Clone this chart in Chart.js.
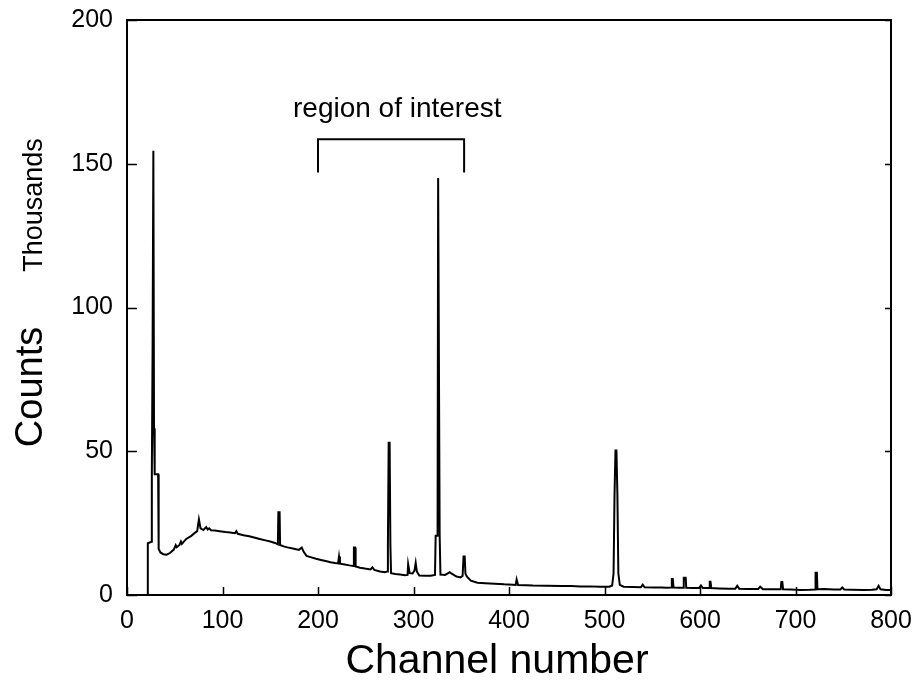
<!DOCTYPE html>
<html lang="en">
<head>
    <meta charset="UTF-8">
    <title>Channel spectrum</title>
    <script src="https://cdn.jsdelivr.net/npm/chart.js"></script>
    <style>
        html, body { margin: 0; padding: 0; background: #fff; }
        #wrap { width: 918px; height: 690px; }
    </style>
</head>
<body>
    <div id="wrap"><canvas id="spectrum" width="918" height="690"></canvas></div>

    <script>
        // spectrum: channel number and counts (thousands)
        const channels = [0, 21.5, 21.8, 25.6, 26, 26.8, 27.6, 28.3, 29, 32.6, 32.9, 33.4, 35, 38, 41.5, 45, 49, 51, 52, 55,
            56.5, 57.5, 62, 67, 71, 73.5, 75.3, 77, 80, 83, 84.5, 86, 88, 92, 97, 103, 108, 113, 114.5, 116,
            122, 128, 133, 139, 145, 150, 155, 158, 158.5, 159.8, 160.3, 164, 170, 176, 180, 183, 185, 188, 193, 198,
            203, 208, 213, 218, 221, 222, 223, 228, 233, 237, 237.6, 238.8, 239.4, 244, 249, 255, 257, 259, 265, 270,
            272.6, 273.2, 274, 275, 275.8, 276.5, 281, 286, 291, 293.8, 294.4, 295.2, 296, 299, 301, 302.3, 303.5, 306, 312, 318,
            322.5, 323.2, 325.2, 325.8, 326.6, 327.4, 328.2, 333, 338, 340, 345, 349, 351.4, 352.4, 353.6, 354.4, 356, 360, 367, 375,
            385, 395, 404, 407, 408, 409.5, 418, 425, 440, 455, 465, 475, 485, 495, 505, 508, 509.5, 510.5, 511.5, 512.5,
            513.5, 514.5, 516, 520, 530, 538, 540, 542, 552, 560, 565, 569.8, 570.5, 571.5, 572.3, 578, 582.5, 583, 585, 585.6,
            592, 599, 601, 603, 609.5, 610.2, 611, 611.8, 620, 630, 637, 639, 641, 650, 661, 663, 666, 675, 684.5, 685.2,
            686.2, 687, 695, 705, 715, 720.5, 721, 722.4, 723, 730, 740, 747, 749, 751, 760, 771, 780, 785, 787, 789,
            795, 800];
        const counts = [0, 0, 18, 18.5, 42, 86, 154.5, 58, 42, 42, 29, 16, 14.8, 14.2, 14.0, 14.6, 15.8, 17.3, 16.6, 17.4,
            18.6, 17.8, 19.5, 20.5, 21.6, 22.2, 26.3, 23.2, 22.6, 23.6, 22.8, 23.2, 22.5, 22.4, 22.2, 21.9, 21.7, 21.5, 22.2, 21.3,
            20.8, 20.4, 20, 19.5, 19, 18.6, 18.1, 17.6, 28.8, 28.8, 17.4, 16.9, 16.4, 16, 15.7, 16.5, 15.0, 13.6, 13.1, 12.6,
            12.2, 11.8, 11.4, 11.1, 11, 13.4, 10.9, 10.6, 10.3, 10.1, 16.5, 16.5, 9.9, 9.5, 9.2, 8.9, 9.6, 8.7, 8.2, 7.9,
            8.2, 17.4, 53, 53, 17.4, 7.6, 7.3, 7.1, 6.9, 7, 10.7, 10.7, 7.6, 7.5, 8.5, 11.2, 8.2, 6.8, 6.7, 6.7,
            7, 20.6, 20.6, 145, 145, 20.6, 7.1, 7, 7.9, 7.4, 6.4, 6.1, 6.6, 13.4, 13.4, 7.4, 6.4, 5.0, 4.3, 4.1,
            3.9, 3.7, 3.6, 3.5, 5.4, 3.5, 3.4, 3.3, 3.2, 3.1, 3.1, 3.0, 3.0, 2.9, 2.9, 3.3, 7.5, 35, 50.3, 50.3,
            35, 7.5, 3.5, 2.9, 2.8, 2.7, 3.6, 2.7, 2.6, 2.6, 2.5, 2.6, 5.6, 5.6, 2.6, 2.5, 2.5, 6.0, 6.0, 2.5,
            2.4, 2.4, 3.3, 2.4, 2.4, 4.6, 4.6, 2.4, 2.3, 2.2, 2.2, 3.2, 2.2, 2.1, 2.1, 2.9, 2.0, 2.0, 2.0, 4.5,
            4.5, 2.0, 1.9, 1.7, 1.8, 1.9, 7.7, 7.7, 2.0, 2.1, 1.9, 1.9, 2.6, 1.9, 1.8, 1.7, 1.8, 2.0, 3.2, 2.0,
            1.7, 1.7];

        // bracket over the region of interest (channel, thousands)
        const bracketX = [200, 200, 353, 353];
        const bracketY = [147, 158.5, 158.5, 147];
        const regionLabel = 'region of interest';

        const xTicks = [0, 100, 200, 300, 400, 500, 600, 700, 800];
        const yTicks = [0, 50, 100, 150, 200];

        const FONT = '"Liberation Sans", Arial, Helvetica, sans-serif';

        const spectrumPoints = channels.map((c, i) => ({ x: c, y: counts[i] }));
        const bracketPoints = bracketX.map((c, i) => ({ x: c, y: bracketY[i] }));

        // frame, inward ticks and the free text
        const framePlugin = {
            id: 'frame',
            afterDraw(chart) {
                const ctx = chart.ctx;
                const a = chart.chartArea;
                const xs = chart.scales.x;
                const ys = chart.scales.y;
                ctx.save();
                ctx.strokeStyle = '#000';
                ctx.lineWidth = 2;
                ctx.strokeRect(a.left, a.top, a.right - a.left, a.bottom - a.top);

                ctx.beginPath();
                xTicks.forEach(v => {
                    const px = Math.round(xs.getPixelForValue(v)) + 0.5;
                    ctx.moveTo(px, a.bottom);
                    ctx.lineTo(px, a.bottom - 8);
                });
                yTicks.forEach(v => {
                    const py = Math.round(ys.getPixelForValue(v)) + 0.5;
                    ctx.moveTo(a.left, py);
                    ctx.lineTo(a.left + 10, py);
                    ctx.moveTo(a.right, py);
                    ctx.lineTo(a.right - 6, py);
                });
                ctx.lineWidth = 1.5;
                ctx.stroke();

                ctx.fillStyle = '#000';

                // region of interest label above the bracket
                ctx.font = '28px ' + FONT;
                ctx.textAlign = 'center';
                ctx.textBaseline = 'alphabetic';
                ctx.fillText(regionLabel, xs.getPixelForValue(283), 117);

                // x axis title
                ctx.font = '41px ' + FONT;
                ctx.fillText('Channel number', 497, 673);

                // y axis titles, rotated
                ctx.save();
                ctx.translate(42, 387);
                ctx.rotate(-Math.PI / 2);
                ctx.font = '38px ' + FONT;
                ctx.fillText('Counts', 0, 0);
                ctx.restore();

                ctx.save();
                ctx.translate(42, 205);
                ctx.rotate(-Math.PI / 2);
                ctx.font = '27px ' + FONT;
                ctx.fillText('Thousands', 0, 0);
                ctx.restore();

                ctx.restore();
            }
        };

        new Chart(document.getElementById('spectrum'), {
            type: 'line',
            data: {
                datasets: [{
                    label: 'Counts',
                    data: spectrumPoints,
                    borderColor: '#000',
                    borderWidth: 2,
                    pointRadius: 0,
                    tension: 0,
                    fill: false
                }, {
                    label: 'Region of interest',
                    data: bracketPoints,
                    borderColor: '#000',
                    borderWidth: 2,
                    pointRadius: 0,
                    tension: 0,
                    fill: false
                }]
            },
            options: {
                responsive: false,
                animation: false,
                layout: { padding: { left: 0, right: 27, top: 20, bottom: 0 } },
                plugins: {
                    legend: { display: false },
                    tooltip: { enabled: false }
                },
                scales: {
                    x: {
                        type: 'linear',
                        min: 0,
                        max: 800,
                        afterFit(scale) {
                            scale.height = 95;
                            scale.paddingLeft = 0;
                            scale.paddingRight = 0;
                        },
                        afterBuildTicks(scale) { scale.ticks = xTicks.map(v => ({ value: v })); },
                        grid: { display: false, drawTicks: false },
                        border: { display: false },
                        ticks: {
                            padding: 11,
                            color: '#000',
                            maxRotation: 0,
                            font: { family: FONT, size: 25 }
                        }
                    },
                    y: {
                        min: 0,
                        max: 200,
                        afterFit(scale) {
                            scale.width = 127;
                            scale.paddingTop = 0;
                            scale.paddingBottom = 0;
                        },
                        afterBuildTicks(scale) { scale.ticks = yTicks.map(v => ({ value: v })); },
                        grid: { display: false, drawTicks: false },
                        border: { display: false },
                        ticks: {
                            padding: 14,
                            color: '#000',
                            font: { family: FONT, size: 25 }
                        }
                    }
                }
            },
            plugins: [framePlugin]
        });
    </script>
</body>
</html>
